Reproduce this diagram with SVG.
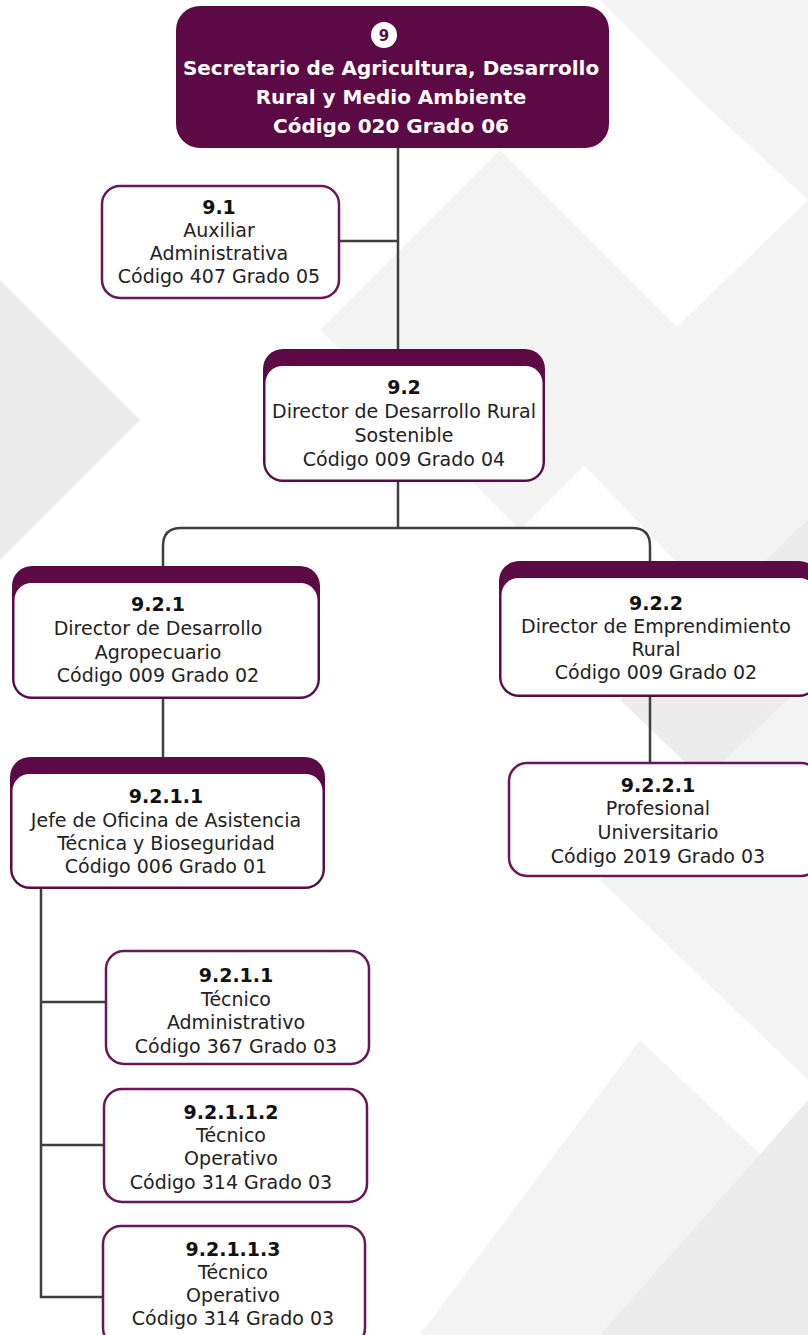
<svg xmlns="http://www.w3.org/2000/svg" width="808" height="1335" viewBox="0 0 808 1335">
<style>
.t{font-family:"DejaVu Sans","Liberation Sans",sans-serif;font-size:19px;fill:#222;text-anchor:middle}
.b{font-weight:bold;fill:#111}
.w{font-family:"DejaVu Sans","Liberation Sans",sans-serif;font-size:20px;font-weight:bold;fill:#fff;text-anchor:middle}
.box{fill:#fff;stroke:#6a1757;stroke-width:2.5}
.hd{fill:#5c0a45}
.in{fill:#fff}
.c{fill:none;stroke:#3f3f3f;stroke-width:2.5}
.bg1{fill:#ececec}
.bg2{fill:#f3f3f3}
</style>
<g id="background">
<rect width="808" height="1335" fill="#fff"/>
<polygon class="bg2" points="600,0 808,0 808,200 700,100"/>
<polygon class="bg2" points="320,330 500,150 700,350 520,530"/>
<polygon class="bg1" points="0,280 140,420 0,560"/>
<polygon class="bg2" points="560,440 808,200 808,700"/>
<polygon class="bg1" points="620,700 808,520 808,880"/>
<polygon class="bg2" points="600,880 808,680 808,1080"/>
<polygon class="bg2" points="420,1335 640,1040 808,1200 808,1335"/>
<polygon class="bg1" points="600,1335 808,1100 808,1335"/>
</g>
<g id="connectors">
<path class="c" d="M398,148 V349"/>
<path class="c" d="M339,241 H398"/>
<path class="c" d="M398,482 V528"/>
<path class="c" d="M163,566 V546 Q163,528 181,528 H632 Q650,528 650,546 V561"/>
<path class="c" d="M163,699 V757"/>
<path class="c" d="M650,697 V763"/>
<path class="c" d="M41,889 V1297 H103"/>
<path class="c" d="M41,1002 H106"/>
<path class="c" d="M41,1145 H104"/>
</g>
<g id="n9">
<rect x="176" y="6" width="433" height="142" rx="24" class="hd"/>
<circle cx="384" cy="35" r="13" fill="#fff"/>
<text x="384" y="41" font-family="DejaVu Sans,sans-serif" font-size="15" font-weight="bold" fill="#5c0a45" text-anchor="middle">9</text>
<text class="w" x="391" y="75">Secretario de Agricultura, Desarrollo</text>
<text class="w" x="391" y="104">Rural y Medio Ambiente</text>
<text class="w" x="391" y="133">Código 020 Grado 06</text>
</g>
<g id="n9_1">
<rect x="102" y="186" width="237" height="112" rx="18" class="box"/>
<text class="t b" x="219" y="214">9.1</text>
<text class="t" x="219" y="237">Auxiliar</text>
<text class="t" x="219" y="260">Administrativa</text>
<text class="t" x="219" y="283">Código 407 Grado 05</text>
</g>
<g id="n9_2">
<rect x="263" y="349" width="282" height="133" rx="20" class="hd"/>
<rect x="265.5" y="366" width="277" height="113.5" rx="17" class="in"/>
<text class="t b" x="404" y="394">9.2</text>
<text class="t" x="404" y="418">Director de Desarrollo Rural</text>
<text class="t" x="404" y="442">Sostenible</text>
<text class="t" x="404" y="466">Código 009 Grado 04</text>
</g>
<g id="n9_2_1">
<rect x="12" y="566" width="308" height="133" rx="20" class="hd"/>
<rect x="14.5" y="583" width="303" height="113.5" rx="17" class="in"/>
<text class="t b" x="158" y="611">9.2.1</text>
<text class="t" x="158" y="635">Director de Desarrollo</text>
<text class="t" x="158" y="659">Agropecuario</text>
<text class="t" x="158" y="682">Código 009 Grado 02</text>
</g>
<g id="n9_2_2">
<rect x="499" y="561" width="320" height="136" rx="20" class="hd"/>
<rect x="501.5" y="578" width="315" height="116.5" rx="17" class="in"/>
<text class="t b" x="656" y="610">9.2.2</text>
<text class="t" x="656" y="633">Director de Emprendimiento</text>
<text class="t" x="656" y="656">Rural</text>
<text class="t" x="656" y="679">Código 009 Grado 02</text>
</g>
<g id="n9_2_1_1">
<rect x="10" y="757" width="315" height="132" rx="20" class="hd"/>
<rect x="12.5" y="774" width="310" height="112.5" rx="17" class="in"/>
<text class="t b" x="166" y="803">9.2.1.1</text>
<text class="t" x="166" y="827">Jefe de Oficina de Asistencia</text>
<text class="t" x="166" y="850">Técnica y Bioseguridad</text>
<text class="t" x="166" y="873">Código 006 Grado 01</text>
</g>
<g id="n9_2_2_1">
<rect x="509" y="763" width="310" height="113" rx="18" class="box"/>
<text class="t b" x="658" y="792">9.2.2.1</text>
<text class="t" x="658" y="815">Profesional</text>
<text class="t" x="658" y="839">Universitario</text>
<text class="t" x="658" y="863">Código 2019 Grado 03</text>
</g>
<g id="n9_2_1_1_a">
<rect x="106" y="951" width="263" height="113" rx="18" class="box"/>
<text class="t b" x="236" y="982">9.2.1.1</text>
<text class="t" x="236" y="1006">Técnico</text>
<text class="t" x="236" y="1029">Administrativo</text>
<text class="t" x="236" y="1053">Código 367 Grado 03</text>
</g>
<g id="n9_2_1_1_2">
<rect x="104" y="1089" width="263" height="113" rx="18" class="box"/>
<text class="t b" x="231" y="1119">9.2.1.1.2</text>
<text class="t" x="231" y="1142">Técnico</text>
<text class="t" x="231" y="1165">Operativo</text>
<text class="t" x="231" y="1189">Código 314 Grado 03</text>
</g>
<g id="n9_2_1_1_3">
<rect x="103" y="1226" width="262" height="120" rx="18" class="box"/>
<text class="t b" x="233" y="1256">9.2.1.1.3</text>
<text class="t" x="233" y="1279">Técnico</text>
<text class="t" x="233" y="1302">Operativo</text>
<text class="t" x="233" y="1325">Código 314 Grado 03</text>
</g>
</svg>
